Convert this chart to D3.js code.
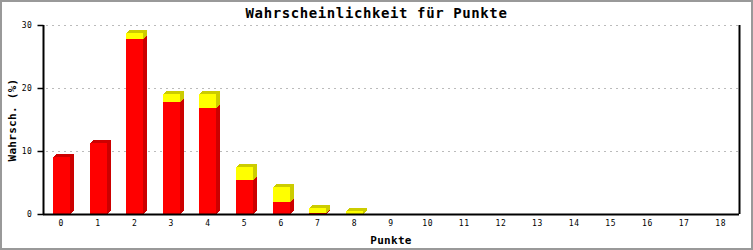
<!DOCTYPE html>
<html>
<head>
<meta charset="utf-8">
<script src="https://cdn.jsdelivr.net/npm/d3@7"></script>
<style>
  body { margin: 0; background: #fff; }
  svg { display: block; }
  text { font-family: "DejaVu Sans Mono", "Liberation Mono", monospace; }
</style>
</head>
<body>
<svg id="chart" width="753" height="250"></svg>
<script>
var width = 753,
    height = 250;

// Data
var punkte = ["0", "1", "2", "3", "4", "5", "6", "7", "8", "9", "10", "11", "12", "13", "14", "15", "16", "17", "18"];
var rot = [9.0, 11.3, 27.8, 17.8, 16.8, 5.4, 1.9, 0.15, 0, 0, 0, 0, 0, 0, 0, 0, 0, 0, 0];
var gelb = [0, 0, 0.9, 1.2, 2.2, 2.1, 2.4, 0.8, 0.4, 0, 0, 0, 0, 0, 0, 0, 0, 0, 0];
var yTicks = [0, 10, 20, 30];

// plot box (don't use "top", it's window.top)
var plotLeft = 43, plotRight = 739, plotTop = 25, plotBottom = 214;
var depthX = 4, depthY = 3;

var svg = d3.select("#chart");

// outer frame
svg.append("rect")
    .attr("x", 1).attr("y", 1)
    .attr("width", width - 2).attr("height", height - 2)
    .attr("fill", "#fff")
    .attr("stroke", "#999")
    .attr("stroke-width", 2);

var x = d3.scaleBand().domain(punkte).range([plotLeft, plotRight]).paddingInner(0.54).paddingOuter(0.27);
var y = d3.scaleLinear().domain([0, 30]).range([plotBottom, plotTop]);

// grid lines
svg.append("g")
    .selectAll("line")
    .data(yTicks.filter(function (d) { return d > 0; }))
    .join("line")
    .attr("x1", plotLeft + 3)
    .attr("x2", plotRight - 1)
    .attr("y1", function (d) { return Math.round(y(d)) + 0.5; })
    .attr("y2", function (d) { return Math.round(y(d)) + 0.5; })
    .attr("stroke", "#bbb")
    .attr("stroke-dasharray", "2,4");

// stacked 3D boxes
var segments = [];
punkte.forEach(function (p, i) {
    segments.push({ key: p, y0: 0, y1: rot[i], front: "#ff0000", shade: "#cc0000" });
    segments.push({ key: p, y0: rot[i], y1: rot[i] + gelb[i], front: "#ffff00", shade: "#cccc00" });
});
segments = segments.filter(function (d) { return d.y1 - d.y0 > 0; });

var boxes = svg.append("g").attr("shape-rendering", "crispEdges")
    .selectAll("g")
    .data(segments)
    .join("g");

boxes.append("polygon")
    .attr("fill", function (d) { return d.shade; })
    .attr("points", function (d) {
        var x0 = Math.round(x(d.key)), x1 = x0 + Math.round(x.bandwidth());
        var yt = Math.round(y(d.y1)), yb = Math.round(y(d.y0));
        return [[x1, yt], [x1 + depthX, yt - depthY], [x1 + depthX, yb - depthY], [x1, yb]].join(" ");
    });

boxes.append("polygon")
    .attr("fill", function (d) { return d.shade; })
    .attr("points", function (d) {
        var x0 = Math.round(x(d.key)), x1 = x0 + Math.round(x.bandwidth());
        var yt = Math.round(y(d.y1));
        return [[x0, yt], [x0 + depthX, yt - depthY], [x1 + depthX, yt - depthY], [x1, yt]].join(" ");
    });

boxes.append("rect")
    .attr("fill", function (d) { return d.front; })
    .attr("x", function (d) { return Math.round(x(d.key)); })
    .attr("width", Math.round(x.bandwidth()))
    .attr("y", function (d) { return Math.round(y(d.y1)); })
    .attr("height", function (d) { return Math.round(y(d.y0)) - Math.round(y(d.y1)); });

// axes
var yAxis = svg.append("g")
    .attr("transform", "translate(" + (plotLeft + 0.5) + ",0)")
    .call(d3.axisLeft(y).tickValues(yTicks).tickSize(6).tickPadding(5));
yAxis.select(".domain").attr("stroke", "#000").attr("stroke-width", 2)
    .attr("d", "M0," + plotTop + "V" + plotBottom);
yAxis.selectAll(".tick line").attr("stroke", "#000").attr("stroke-width", 1.5);
yAxis.selectAll("text")
    .attr("font-size", 8)
    .attr("letter-spacing", 0.6)
    .attr("font-family", "DejaVu Sans Mono, monospace")
    .attr("fill", "#000");

var xAxis = svg.append("g")
    .attr("transform", "translate(0," + (plotBottom + 0.5) + ")")
    .call(d3.axisBottom(x).tickSize(0).tickPadding(6));
xAxis.select(".domain").attr("stroke", "#000").attr("stroke-width", 2)
    .attr("d", "M" + plotLeft + ",0H" + plotRight);
xAxis.selectAll("text")
    .attr("font-size", 8)
    .attr("letter-spacing", 0.6)
    .attr("font-family", "DejaVu Sans Mono, monospace")
    .attr("fill", "#000");

// right frame line of the plot
svg.append("line")
    .attr("x1", plotRight + 0.5).attr("x2", plotRight + 0.5)
    .attr("y1", plotTop).attr("y2", plotBottom)
    .attr("stroke", "#000")
    .attr("stroke-width", 2);

// titles
svg.append("text")
    .attr("x", width / 2)
    .attr("y", 18)
    .attr("text-anchor", "middle")
    .attr("font-size", 14)
    .attr("font-weight", "bold")
    .attr("letter-spacing", 0.6)
    .text("Wahrscheinlichkeit für Punkte");

svg.append("text")
    .attr("x", (plotLeft + plotRight) / 2)
    .attr("y", 244)
    .attr("text-anchor", "middle")
    .attr("font-size", 11)
    .attr("font-weight", "bold")
    .attr("letter-spacing", 0.3)
    .text("Punkte");

svg.append("text")
    .attr("transform", "translate(16,120) rotate(-90)")
    .attr("text-anchor", "middle")
    .attr("font-size", 11)
    .attr("font-weight", "bold")
    .attr("letter-spacing", 0.3)
    .text("Wahrsch. (%)");
</script>
</body>
</html>
